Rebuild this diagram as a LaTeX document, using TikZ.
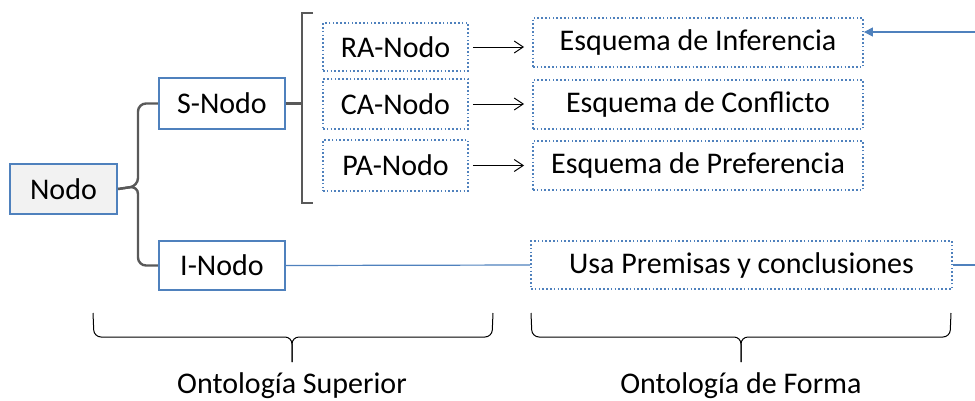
\documentclass[tikz,border=0pt]{standalone}
\usepackage{fontspec}
\setmainfont{Carlito}
\usetikzlibrary{arrows.meta}
\definecolor{obl}{HTML}{4F81BD}
\definecolor{brk}{HTML}{595959}
\tikzset{
  solidbox/.style={draw=obl, line width=2.2pt, inner sep=0pt, font=\fontsize{30}{36}\selectfont},
  dotbox/.style={draw=obl, line width=1.8pt, dash pattern=on 1.6pt off 2.2pt, inner sep=0pt, font=\fontsize{30}{36}\selectfont},
  bracketline/.style={draw=brk, line width=2.4pt},
  bluelink/.style={draw=obl, line width=1.2pt},
  blackarrow/.style={draw=black, line width=1pt, -{Straight Barb[length=9pt,width=12pt]}, shorten <=4pt, shorten >=8pt},
  bracelabel/.style={font=\fontsize{30}{36}\selectfont, inner sep=0pt},
  bottombrace/.style={draw=black, line width=1pt, rounded corners=7pt}
}
\begin{document}
\begin{tikzpicture}[x=1pt,y=-1pt]
\useasboundingbox (0,0) rectangle (975,400);
% nodes
\node[solidbox, fill=black!5, minimum width=107pt, minimum height=50pt] (nodo) at (63.5,189) {Nodo};
\node[solidbox, minimum width=126pt, minimum height=51pt] (s) at (222,103.5) {S-Nodo};
\node[solidbox, minimum width=126pt, minimum height=49pt] (i) at (222,265.5) {I-Nodo};
\node[dotbox, minimum width=145pt, minimum height=48pt] (ra) at (395.5,47) {RA-Nodo};
\node[dotbox, minimum width=145pt, minimum height=50pt] (ca) at (395.5,104) {CA-Nodo};
\node[dotbox, minimum width=145pt, minimum height=51pt] (pa) at (395.5,165.5) {PA-Nodo};
\node[dotbox, minimum width=330pt, minimum height=49pt] (ei) at (698,42.5) {Esquema de Inferencia};
\node[dotbox, minimum width=330pt, minimum height=49pt] (ec) at (698,104.5) {Esquema de Conflicto};
\node[dotbox, minimum width=330pt, minimum height=49pt] (ep) at (698,165.5) {Esquema de Preferencia};
\node[dotbox, minimum width=421pt, minimum height=48pt] (usa) at (741.5,265) {Usa Premisas y conclusiones};
\node[bracelabel] (lsup) at (292,386) {Ontología Superior};
\node[bracelabel] (lfor) at (741,386) {Ontología de Forma};
\coordinate (rin) at (975,32);
\coordinate (rout) at (975,265);
% brace from Nodo
\draw[bracketline, rounded corners=8pt] (nodo.east) -- (138,186) -- (138,103.5) -- (s.west);
\draw[bracketline, rounded corners=8pt] (nodo.east) -- (138,186) -- (138,265.5) -- (i.west);
% square bracket from S-Nodo
\draw[bracketline] (s.east) -- (s.east -| 302,0);
\draw[bracketline] (313,13) -- (302,13) -- (302,203) -- (313,203);
% arrows
\draw[blackarrow] (ra.east) -- (ra.east -| ei.west);
\draw[blackarrow] (ca.east) -- (ca.east -| ec.west);
\draw[blackarrow] (pa.east) -- (pa.east -| ep.west);
% blue links
\draw[bluelink, -{Triangle[length=9pt,width=9pt]}] (rin) -- (rin -| ei.east);
\draw[bluelink] (i.east) -- (usa.west);
\draw[bluelink] (usa.east) -- (rout);
% bottom braces
\draw[bottombrace] (93,313) -- (94,337) -- (292,337) -- (292,362);
\draw[bottombrace] (493,313) -- (492,337) -- (292,337) -- (292,362);
\draw[bottombrace] (531,313) -- (532,337) -- (741,337) -- (741,362);
\draw[bottombrace] (951,313) -- (950,337) -- (741,337) -- (741,362);
\end{tikzpicture}
\end{document}
